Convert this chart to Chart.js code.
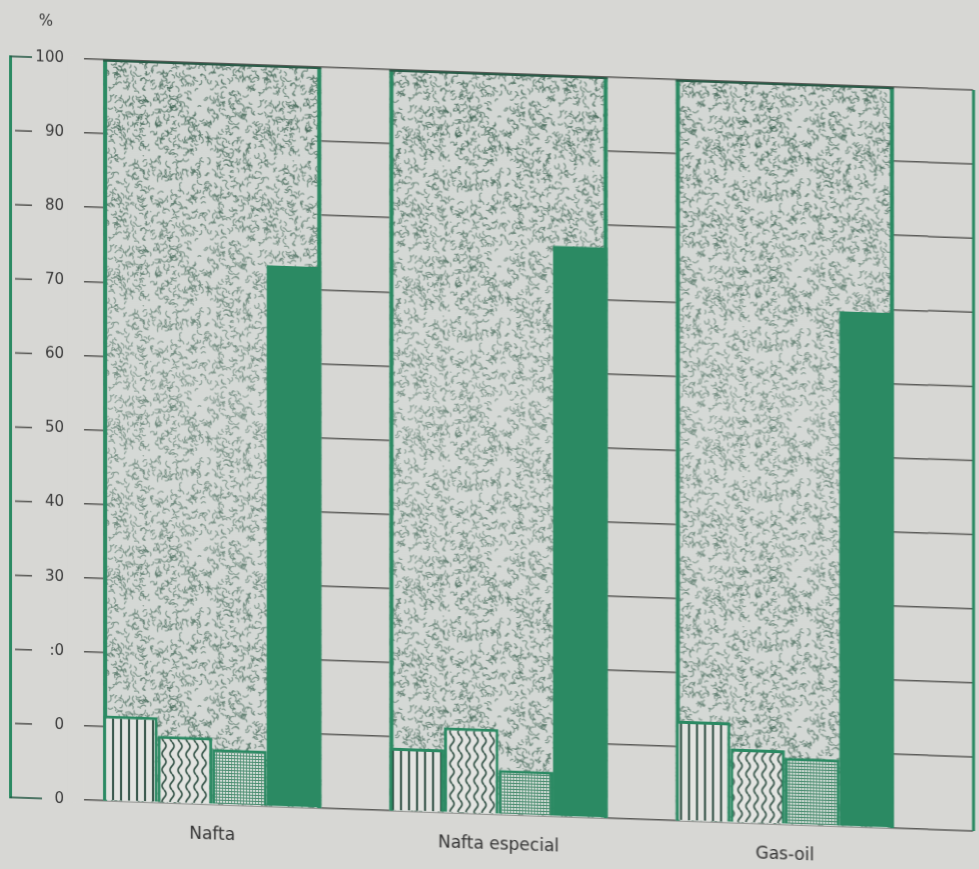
<!DOCTYPE html>
<html>
<head>
<meta charset="utf-8">
<script src="https://cdn.jsdelivr.net/npm/chart.js@4.4.0/dist/chart.umd.min.js"></script>
<style>
  body { margin: 0; background: #d7d7d4; overflow: hidden; }
  #wrap { width: 979px; height: 869px; }
  /* the scanned page is slightly sheared, right side lower */
  #chart { transform: skewY(2deg); transform-origin: 0 0; }
</style>
</head>
<body>
<div id="wrap"><canvas id="chart" width="979" height="869"></canvas></div>
<script>
// values (% of total)
const categories = ['Nafta', 'Nafta especial', 'Gas-oil'];
const striped = [11.5, 8.5, 13.5];
const wavy = [9, 11.5, 10];
const dotted = [7.5, 6, 9];
const solid = [73, 77, 69.5];
const yTickLabels = ['0', '0', ':0', '30', '40', '50', '60', '70', '80', '90', '100'];

const green = '#2b8a63';
const darkGreen = '#2a5c48';
const paper = '#d7d7d4';
const lineGray = '#5b5b58';

function makeTile(w, h, draw) {
    const c = document.createElement('canvas');
    c.width = w; c.height = h;
    draw(c.getContext('2d'), w, h);
    return c;
}

// simple deterministic generator, only for the print texture
let seed = 12345;
function rnd() {
    seed = (seed * 1103515245 + 12345) % 2147483648;
    return seed / 2147483648;
}

const stippleTile = makeTile(150, 150, (g, w, h) => {
    g.fillStyle = '#d3d7d4';
    g.fillRect(0, 0, w, h);
    g.strokeStyle = 'rgba(55,96,78,0.62)';
    g.lineWidth = 1.2;
    g.lineCap = 'round';
    for (let i = 0; i < 900; i++) {
        const x = rnd() * w, y = rnd() * h;
        const a = rnd() * Math.PI * 2;
        const l = 1.5 + rnd() * 2.5;
        g.beginPath();
        g.moveTo(x, y);
        g.quadraticCurveTo(x + Math.cos(a + 1) * l, y + Math.sin(a + 1) * l,
                           x + Math.cos(a) * l * 1.6, y + Math.sin(a) * l * 1.6);
        g.stroke();
    }
});

const stripeTile = makeTile(8, 10, (g, w, h) => {
    g.fillStyle = '#e3e4e1';
    g.fillRect(0, 0, w, h);
    g.fillStyle = '#2f4f43';
    g.fillRect(0, 0, 2, h);
});

const wavyTile = makeTile(8, 16, (g, w, h) => {
    g.fillStyle = '#e3e4e1';
    g.fillRect(0, 0, w, h);
    g.strokeStyle = '#2f4f43';
    g.lineWidth = 1.6;
    g.beginPath();
    for (let y = 0; y <= h; y++) {
        const x = 4 + 2 * Math.sin(2 * Math.PI * y / h);
        if (y === 0) g.moveTo(x, y); else g.lineTo(x, y);
    }
    g.stroke();
});

const gridTile = makeTile(3, 3, (g, w, h) => {
    g.fillStyle = '#e2e5e2';
    g.fillRect(0, 0, w, h);
    g.fillStyle = '#4a8d70';
    g.fillRect(0, 0, w, 1);
    g.fillRect(0, 0, 1, h);
});

const ctx = document.getElementById('chart').getContext('2d');
const stipple = ctx.createPattern(stippleTile, 'repeat');
const stripePat = ctx.createPattern(stripeTile, 'repeat');
const wavyPat = ctx.createPattern(wavyTile, 'repeat');
const gridPat = ctx.createPattern(gridTile, 'repeat');

const paperPlugin = {
    id: 'paperPlugin',
    beforeDatasetsDraw(chart) {
        const c = chart.ctx;
        const y = chart.scales.y;
        const area = chart.chartArea;
        const top = y.getPixelForValue(100);
        const bottom = y.getPixelForValue(0);
        const first = chart.getDatasetMeta(0);
        const last = chart.getDatasetMeta(3);
        c.save();
        // keep only short tick marks left of the first box
        c.fillStyle = paper;
        c.fillRect(area.left - 1, top - 3, 16, bottom - top + 6);
        first.data.forEach((b0, i) => {
            const b3 = last.data[i];
            const left = b0.x - b0.width / 2;
            const right = b3.x + b3.width / 2;
            c.fillStyle = stipple;
            c.fillRect(left, top, right - left, bottom - top);
            // print is lighter in the middle of the box
            const shade = c.createLinearGradient(0, top, 0, bottom);
            shade.addColorStop(0, 'rgba(220,223,220,0)');
            shade.addColorStop(0.45, 'rgba(220,223,220,0.3)');
            shade.addColorStop(1, 'rgba(220,223,220,0.08)');
            c.fillStyle = shade;
            c.fillRect(left, top, right - left, bottom - top);
            c.fillStyle = green;
            c.fillRect(left, top, 4, bottom - top);
            c.fillRect(right - 4, top, 4, bottom - top);
            c.fillStyle = darkGreen;
            c.fillRect(left, top, right - left, 2);
        });
        // last ladder column runs past the chart area
        const edge = area.right + 45;
        c.strokeStyle = lineGray;
        c.lineWidth = 1.5;
        y.ticks.forEach(t => {
            const py = y.getPixelForValue(t.value);
            c.beginPath();
            c.moveTo(area.right, py);
            c.lineTo(edge, py);
            c.stroke();
        });
        c.fillStyle = green;
        c.fillRect(edge - 1, top, 3, bottom - top);
        c.restore();
    },
    afterDraw(chart) {
        const c = chart.ctx;
        const y = chart.scales.y;
        const top = y.getPixelForValue(100);
        const bottom = y.getPixelForValue(0);
        c.save();
        // bracket on the far left
        c.fillStyle = green;
        c.fillRect(9, top - 1, 3, bottom - top + 2);
        y.ticks.forEach(t => {
            const py = y.getPixelForValue(t.value);
            c.strokeStyle = (t.value === 0 || t.value === 100) ? darkGreen : lineGray;
            c.lineWidth = 1.6;
            c.beginPath();
            c.moveTo(t.value === 0 || t.value === 100 ? 10 : 15, py);
            c.lineTo(t.value === 0 ? 42 : 32, py);
            c.stroke();
        });
        c.fillStyle = '#3a3a3a';
        c.font = '15px "DejaVu Sans"';
        c.textAlign = 'center';
        c.fillText('%', 46, 24);
        c.restore();
    }
};

new Chart(ctx, {
    type: 'bar',
    data: {
        labels: categories,
        datasets: [
            { label: 'rayado', data: striped, backgroundColor: stripePat,
              borderColor: green, borderWidth: 3, borderSkipped: 'bottom' },
            { label: 'ondulado', data: wavy, backgroundColor: wavyPat,
              borderColor: green, borderWidth: 3, borderSkipped: 'bottom' },
            { label: 'punteado', data: dotted, backgroundColor: gridPat,
              borderColor: green, borderWidth: 3, borderSkipped: 'bottom' },
            { label: 'lleno', data: solid, backgroundColor: green, borderWidth: 0 }
        ]
    },
    options: {
        responsive: false,
        animation: false,
        categoryPercentage: 0.762,
        barPercentage: 1.0,
        layout: { padding: { left: 9, right: 51, top: 56, bottom: 10 } },
        plugins: {
            legend: { display: false },
            tooltip: { enabled: false }
        },
        scales: {
            x: {
                grid: { display: false },
                border: { display: false },
                ticks: {
                    color: '#333',
                    font: { family: 'DejaVu Sans', size: 17 },
                    padding: 12
                },
                afterFit: (scale) => { scale.height = 62; }
            },
            y: {
                min: 0,
                max: 100,
                border: { display: false },
                grid: { color: lineGray, lineWidth: 1.5, drawTicks: false },
                ticks: {
                    stepSize: 10,
                    padding: 5,
                    color: '#3a3a3a',
                    font: { family: 'DejaVu Sans', size: 15 },
                    callback: (value, index) => yTickLabels[index]
                },
                afterFit: (scale) => { scale.width = 60; }
            }
        }
    },
    plugins: [paperPlugin]
});
</script>
</body>
</html>
